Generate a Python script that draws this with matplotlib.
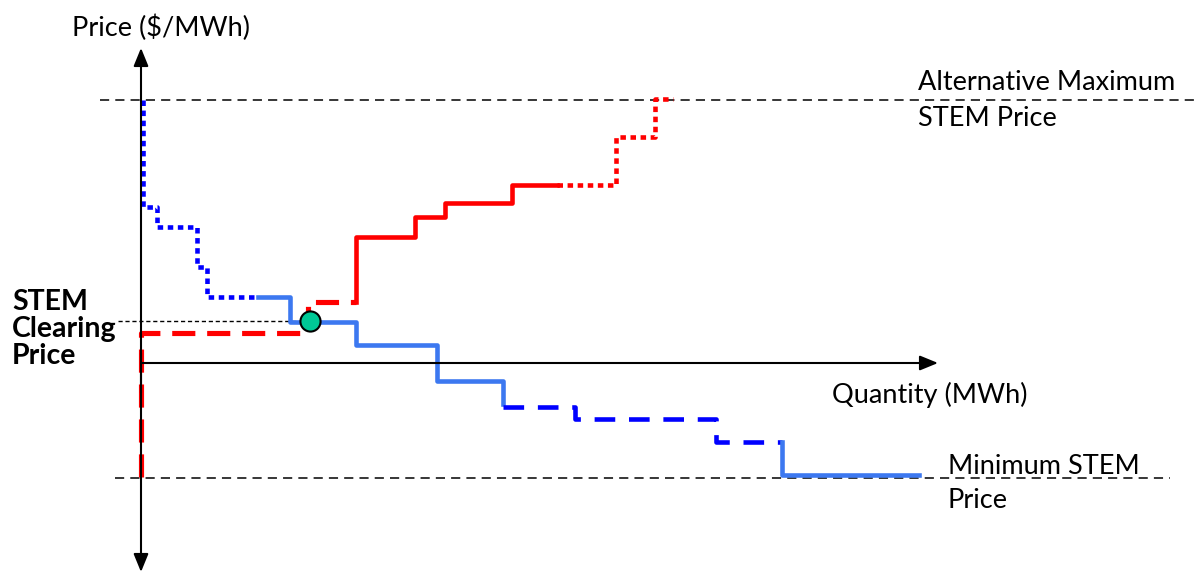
import matplotlib
matplotlib.use("Agg")
import matplotlib.pyplot as plt

# Conceptual STEM supply/demand diagram (arbitrary units, origin at axes crossing)
# Demand (blue) segments
dem_dot_q = [2, 2, 16, 16, 56, 56, 66, 66, 117]
dem_dot_p = [263, 156, 156, 136, 136, 96, 96, 66, 66]
dem_solid1_q = [117, 149, 149, 215, 215, 296, 296, 362, 362]
dem_solid1_p = [66, 66, 41, 41, 18, 18, -18, -18, -41]
dem_dash_q = [362, 434, 434, 575, 575, 641]
dem_dash_p = [-44, -44, -56, -56, -79, -79]
dem_solid2_q = [641, 641, 778]
dem_solid2_p = [-79, -112, -112]

# Supply (red) segments
sup_dash_q = [0, 0, 167, 167, 215]
sup_dash_p = [-114, 30, 30, 61, 61]
sup_solid_q = [215, 215, 274, 274, 304, 304, 371, 371, 416]
sup_solid_p = [61, 126, 126, 146, 146, 160, 160, 178, 178]
sup_dot_q = [416, 475, 475, 514, 514, 532]
sup_dot_p = [178, 178, 226, 226, 264, 264]

max_price = 263
min_price = -115
clearing_price = 42
clearing_qty = 169

plt.rcParams['font.family'] = ['Lato', 'DejaVu Sans']
fig = plt.figure(figsize=(12, 5.72), dpi=100)
ax = fig.add_axes([0, 0, 1, 1])
ax.set_xlim(-141, 1059)
ax.set_ylim(-209, 363)
ax.axis('off')

# reference lines
ax.plot([-41, 1059], [max_price, max_price], color='black', lw=1.1, ls=(0, (6, 4)))
ax.plot([-26, 1029], [min_price, min_price], color='black', lw=1.1, ls=(0, (6, 4)))
ax.plot([-23, clearing_qty], [clearing_price, clearing_price], color='black', lw=1.0, ls=(0, (3, 2)))

# axes with arrows
arrow = dict(arrowstyle='-|>,head_length=1.1,head_width=0.45', color='black', lw=1.5, shrinkA=0, shrinkB=0)
ax.annotate('', xy=(0, 315), xytext=(0, -30), arrowprops=arrow)
ax.annotate('', xy=(0, -209), xytext=(0, 10), arrowprops=arrow)
ax.annotate('', xy=(797, 0), xytext=(0, 0), arrowprops=arrow)

lw = 3.3
blue_dark = '#0000FF'
blue_light = '#3C78F0'
red = '#FF0000'

ax.plot(dem_dot_q, dem_dot_p, color=blue_dark, lw=lw, ls=(0, (1.2, 1.0)))
ax.plot(dem_solid1_q, dem_solid1_p, color=blue_light, lw=lw, solid_joinstyle='round')
ax.plot(dem_dash_q, dem_dash_p, color=blue_dark, lw=lw, ls=(0, (4.5, 3.0)))
ax.plot(dem_solid2_q, dem_solid2_p, color=blue_light, lw=lw, solid_joinstyle='round')

ax.plot(sup_dash_q, sup_dash_p, color=red, lw=lw + 0.4, ls=(0, (4.5, 2.3)))
ax.plot(sup_solid_q, sup_solid_p, color=red, lw=lw, solid_joinstyle='round')
ax.plot(sup_dot_q, sup_dot_p, color=red, lw=lw, ls=(0, (1.2, 1.0)))

ax.plot([clearing_qty], [clearing_price], marker='o', ms=14.5, mfc='#00C896', mec='black', mew=1.5, zorder=5)

fs = 19.5
fsb = 20.5
ax.text(20, 335, 'Price ($/MWh)', ha='center', va='center', fontsize=fs)
ax.text(777, 281, 'Alternative Maximum', ha='left', va='center', fontsize=fs)
ax.text(777, 245, 'STEM Price', ha='left', va='center', fontsize=fs)
ax.text(691, -32, 'Quantity (MWh)', ha='left', va='center', fontsize=fs)
ax.text(807, -103, 'Minimum STEM', ha='left', va='center', fontsize=fs)
ax.text(807, -137, 'Price', ha='left', va='center', fontsize=fs)
ax.text(-129, 61, 'STEM', ha='left', va='center', fontsize=fsb, fontweight='bold')
ax.text(-129, 34, 'Clearing', ha='left', va='center', fontsize=fsb, fontweight='bold')
ax.text(-129, 7, 'Price', ha='left', va='center', fontsize=fsb, fontweight='bold')

fig.savefig('out.png', dpi=100)
